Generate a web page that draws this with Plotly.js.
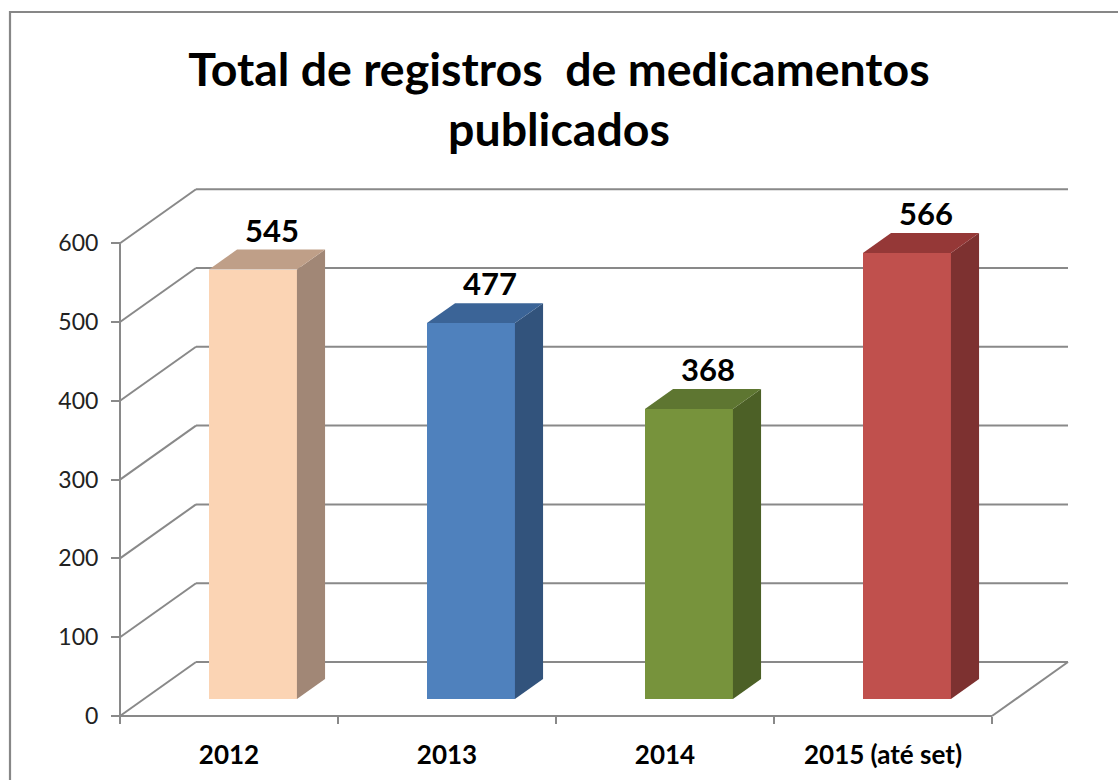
<!DOCTYPE html>
<html>
<head>
<meta charset="utf-8">
<script src="https://cdn.plot.ly/plotly-3.0.1.min.js"></script>
<style>html,body{margin:0;padding:0;background:#fff;}#chart{width:1118px;height:780px;}</style>
</head>
<body>
<div id="chart"></div>
<script>
// ---- data ----
var categories = ['2012', '2013', '2014', '2015 (até set)'];
var values = [545, 477, 368, 566];
var yTickVals = [0, 100, 200, 300, 400, 500, 600];
var yTickText = ['0', '100', '200', '300', '400', '500', '600'];
var titleText = 'Total de registros \u00a0de medicamentos<br>publicados';

// ---- styles ----
var frontColors = ['#FBD4B4', '#4F81BD', '#77933C', '#C0504D'];
var sideColors  = ['#A18776', '#32537C', '#4C6026', '#7D3130'];
var topColors   = ['#BF9F88', '#3B6497', '#5E7631', '#953837'];
var gridColor = '#898989';
var FONT = 'Lato, "Open Sans", sans-serif';

// ---- geometry (pixels -> axis units) ----
var W = 1118, H = 780;
var mL = 110, mR = 40, mT = 180, mB = 56;
var pxX = 218, pxY = 0.788;          // pixels per x-unit / per value-unit
var axisPxX = 120, axisPxY = 716;    // pixel position of x=0 / value 0
var plotW = W - mL - mR, plotH = H - mT - mB;
var xRange = [(mL - axisPxX) / pxX, (W - mR - axisPxX) / pxX];
var yRange = [-(H - mB - axisPxY) / pxY, (axisPxY - mT) / pxY];
var depthX = 76 / pxX, depthY = 54 / pxY;   // full floor depth
var d0 = 0.315, d1 = 0.685;                 // bar depth span (fraction)
var barW = 88 / pxX;
var nCat = categories.length;

var traces = [];
var shapes = [];

// back wall gridlines and side wall diagonals
yTickVals.forEach(function (v) {
  shapes.push({type: 'line', xref: 'x', yref: 'y', layer: 'below',
    x0: 0, y0: v, x1: depthX, y1: v + depthY, line: {color: gridColor, width: 2}});
  shapes.push({type: 'line', xref: 'x', yref: 'y', layer: 'below',
    x0: depthX, y0: v + depthY, x1: nCat + depthX, y1: v + depthY, line: {color: gridColor, width: 2}});
});
// floor right edge
shapes.push({type: 'line', xref: 'x', yref: 'y', layer: 'below',
  x0: nCat, y0: 0, x1: nCat + depthX, y1: depthY, line: {color: gridColor, width: 2}});
// axis lines
shapes.push({type: 'line', xref: 'x', yref: 'y', layer: 'below',
  x0: 0, y0: 0, x1: 0, y1: yTickVals[yTickVals.length - 1], line: {color: gridColor, width: 2}});
shapes.push({type: 'line', xref: 'x', yref: 'y', layer: 'below',
  x0: 0, y0: 0, x1: nCat, y1: 0, line: {color: gridColor, width: 2}});
// outer border (cropped on right/bottom in the reference)
shapes.push({type: 'rect', xref: 'paper', yref: 'paper',
  x0: (10 - mL) / plotW, x1: (W + 20 - mL) / plotW,
  y0: -(H + 20 - (H - mB)) / plotH, y1: ((H - mB) - 12) / plotH,
  line: {color: '#878787', width: 2.2}, fillcolor: 'rgba(0,0,0,0)'});

var ox = d0 * depthX, oy = d0 * depthY;
var bdx = (d1 - d0) * depthX, bdy = (d1 - d0) * depthY;

var annotations = [];
var barX = [];
for (var i = 0; i < nCat; i++) barX.push(i + 0.5 + ox);

// front faces
traces.push({type: 'bar', x: barX, y: values, base: oy, width: barW,
  marker: {color: frontColors, line: {width: 0}}, hoverinfo: 'skip', showlegend: false});

for (var i = 0; i < nCat; i++) {
  var v = values[i];
  var xl = barX[i] - barW / 2, xr = barX[i] + barW / 2;
  // side face
  traces.push({type: 'scatter', mode: 'lines', fill: 'toself', fillcolor: sideColors[i],
    line: {width: 0, color: sideColors[i]}, hoverinfo: 'skip', showlegend: false,
    x: [xr, xr + bdx, xr + bdx, xr, xr],
    y: [oy, oy + bdy, oy + v + bdy, oy + v, oy]});
  // top face
  traces.push({type: 'scatter', mode: 'lines', fill: 'toself', fillcolor: topColors[i],
    line: {width: 0, color: topColors[i]}, hoverinfo: 'skip', showlegend: false,
    x: [xl, xl + bdx, xr + bdx, xr, xl],
    y: [oy + v, oy + v + bdy, oy + v + bdy, oy + v, oy + v]});
  annotations.push({x: barX[i] + 19 / pxX, y: oy + v + bdy, xref: 'x', yref: 'y',
    text: String(v), showarrow: false, yanchor: 'middle', yshift: 20,
    font: {family: FONT, size: 31, color: '#000', weight: 'bold'}});
}

// tick-mark-only overlay axis
traces.push({type: 'scatter', x: [0, nCat], y: [0, 0], xaxis: 'x2', mode: 'none',
  hoverinfo: 'skip', showlegend: false});

var catPos = [];
for (var i = 0; i < nCat; i++) catPos.push(i + 0.5);

var layout = {
  width: W, height: H,
  paper_bgcolor: '#fff', plot_bgcolor: 'rgba(0,0,0,0)',
  margin: {l: mL, r: mR, t: mT, b: mB, pad: 0},
  showlegend: false,
  bargap: 0,
  title: {text: titleText, x: 0.5, xref: 'container', xanchor: 'center',
    y: 1 - 86 / H, yref: 'container', yanchor: 'top',
    font: {family: FONT, size: 46.5, color: '#000', weight: 'bold'}},
  xaxis: {range: xRange, anchor: 'free', position: (H - mB - axisPxY) / plotH,
    showgrid: false, zeroline: false, showline: false,
    tickmode: 'array', tickvals: catPos, ticktext: categories, ticks: '',
    ticklabelstandoff: 21,
    tickfont: {family: FONT, size: 26, color: '#000', weight: 'bold'}, fixedrange: true},
  xaxis2: {range: xRange, overlaying: 'x', anchor: 'free', position: (H - mB - axisPxY) / plotH,
    showgrid: false, zeroline: false, showline: false, showticklabels: false,
    tickmode: 'array', tickvals: [0, 1, 2, 3, 4], ticks: 'outside', ticklen: 7,
    tickwidth: 2, tickcolor: gridColor, fixedrange: true},
  yaxis: {range: yRange, anchor: 'free', position: (axisPxX - mL) / plotW,
    showgrid: false, zeroline: false, showline: false,
    tickmode: 'array', tickvals: yTickVals, ticktext: yTickText,
    ticks: 'outside', ticklen: 9, tickwidth: 2, tickcolor: gridColor,
    ticklabelstandoff: 8,
    tickfont: {family: FONT, size: 23, color: '#222'}, fixedrange: true},
  shapes: shapes,
  annotations: annotations
};

Plotly.newPlot('chart', traces, layout, {displayModeBar: false, staticPlot: true});
</script>
</body>
</html>
